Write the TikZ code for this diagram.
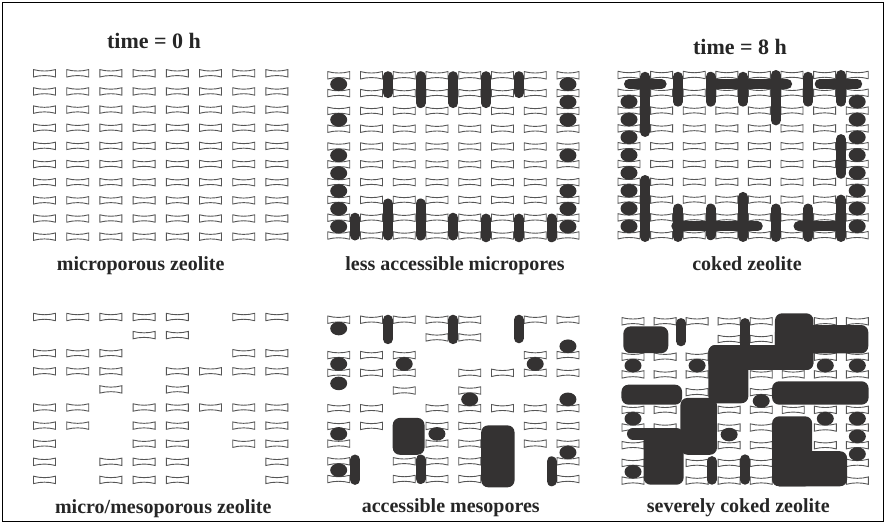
\documentclass[tikz,border=0pt]{standalone}
\usepackage{fontspec}
\setmainfont{Liberation Serif}
\definecolor{cokegray}{RGB}{52,50,50}
\definecolor{poregray}{RGB}{85,85,85}
\definecolor{ink}{RGB}{38,38,38}

\tikzset{
	pore/.pic={
		\draw[draw=poregray, fill=white, line width=0.9pt]
			(-11pt,3.7pt) -- (-11pt,-3.7pt)
			.. controls (-4pt,-1.8pt) and (4pt,-1.8pt) .. (11pt,-3.7pt)
			-- (11pt,3.7pt)
			.. controls (4pt,1.8pt) and (-4pt,1.8pt) .. cycle;
	},
	coke/.style={fill=cokegray},
	cokebar/.style={draw=cokegray, line width=10pt, line cap=round},
	block/.style={fill=cokegray, rounded corners=7pt},
	timestamp/.style={anchor=base, text=ink, font=\bfseries\fontsize{22}{26}\selectfont},
	panelname/.style={anchor=base, text=ink, font=\bfseries\fontsize{20}{24}\selectfont},
}

% 8 x 10 pores, all present
\newcommand\fullgrid{%
	\foreach \c in {0,...,7} {
		\foreach \r in {0,...,9} {
			\pic at (\c,\r) {pore};
		}
	}
}
% same lattice with the mesopores cut out
\newcommand\mesogrid{%
	\foreach \r/\cols in {0/{0,1,2,3,4,6,7}, 1/{3,4}, 2/{0,1,2,6,7}, 3/{0,1,2,4,5,6,7},
		4/{2,4}, 5/{0,1,3,4,5,6,7}, 6/{0,1,3,4,6,7}, 7/{0,3,4,6,7}, 8/{0,2,3,4,7}, 9/{0,2,3,4,7}} {
		\foreach \c in \cols {
			\pic at (\c,\r) {pore};
		}
	}
}
\newcommand\blob[1]{\fill[coke] (#1) ellipse [x radius=8.5pt, y radius=6.8pt];}

\begin{document}
\begin{tikzpicture}[x=1pt, y=-1pt]
	\useasboundingbox (0,0) rectangle (886,524);
	\draw[line width=1.2pt] (2.5,2.5) rectangle (883.5,521.5);

	% titres
	\node[timestamp] (t0) at (154,48.3) {time = 0 h};
	\node[timestamp] (t8) at (740,55) {time = 8 h};

	% microporeux
	\begin{scope}[shift={(44.5,73.3)}, x=33.2pt, y=-18.15pt]
		\fullgrid
	\end{scope}
	\node[panelname] (micro) at (140.7,270) {microporous zeolite};

	% micropores moins accessibles
	\begin{scope}[shift={(338.7,75.3)}, x=32.75pt, y=-17.8pt]
		\fullgrid
		\foreach \r in {0.5,2.5,4.5,5.5,6.5,7.5,8.5} {\blob{0,\r}}
		\foreach \r in {0.5,1.5,2.5,4.5,6.5,7.5,8.5} {\blob{7,\r}}
		\foreach \c/\e in {1.5/1.0, 2.5/1.56, 3.5/1.56, 4.5/1.56, 5.5/1.0} {
			\draw[cokebar] (\c,0.05) -- (\c,\e);
		}
		\foreach \c/\s/\e in {0.5/8/9, 1.5/7.2/9, 2.5/7.2/9, 3.5/8/9, 4.5/8.05/9.1, 5.5/8.05/9.1, 6.5/8.05/9.1} {
			\draw[cokebar] (\c,\s) -- (\c,\e);
		}
	\end{scope}
	\node[panelname] (less) at (455,270) {less accessible micropores};

	% zeolithe cokee
	\begin{scope}[shift={(629,75)}, x=32.6pt, y=-17.8pt]
		\fullgrid
		\foreach \r in {1.5,2.5,...,8.5} {\blob{0,\r} \blob{7,\r}}
		\foreach \c/\s/\e in {0.5/0.1/3.2, 1.5/0.1/1.5, 2.5/0.1/1.5, 3.5/0.1/1.5, 4.5/0/2.55,
			5.5/0.1/1.5, 6.5/0/1.5, 6.5/3.6/5.55, 0.5/5.9/9.1, 1.5/7.5/9.1, 2.5/7.5/9,
			3.5/6.85/9.1, 4.5/7.5/9.1, 5.5/7.5/9.1, 6.5/7/9.1} {
			\draw[cokebar] (\c,\s) -- (\c,\e);
		}
		\foreach \r/\s/\e in {0.5/0/1, 0.5/2.55/4.85, 0.5/5.85/7, 8.5/1.45/3.95, 8.5/5.2/6.45} {
			\draw[cokebar] (\s,\r) -- (\e,\r);
		}
	\end{scope}
	\node[panelname] (coked) at (747,270) {coked zeolite};

	% micro/mesoporeux
	\begin{scope}[shift={(44.5,317)}, x=33.2pt, y=-18.1pt]
		\mesogrid
	\end{scope}
	\node[panelname] (meso) at (163.3,513.3) {micro/mesoporous zeolite};

	% mesopores accessibles
	\begin{scope}[shift={(338.7,319.7)}, x=32.75pt, y=-17.7pt]
		\mesogrid
		\foreach \p in {{0,0.5},{0,2.5},{0,3.6},{2,2.5},{0,6.45},{0,8.5},{3,6.45},{4,4.5},
			{6,2.5},{7,1.5},{7,4.5},{7,7.5}} {\blob{\p}}
		\foreach \c/\s/\e in {1.5/0/1.1, 3.5/0/1.1, 5.5/0/1.05, 0.5/7.9/9.05, 2.5/7.9/9, 6.5/8/9.13} {
			\draw[cokebar] (\c,\s) -- (\c,\e);
		}
		\fill[block] (1.65,5.55) rectangle (2.62,7.63);
		\fill[block] (4.35,5.97) rectangle (5.37,9.47);
	\end{scope}
	\node[panelname] (access) at (450.8,512.7) {accessible mesopores};

	% fortement cokee
	\begin{scope}[shift={(633,321.3)}, x=32.05pt, y=-17.7pt]
		\mesogrid
		\foreach \p in {{0,2.5},{2,2.5},{6,2.5},{7,2.5},{4,4.5},{0,5.5},{6,5.5},{7,5.5},
			{3,6.4},{7,6.5},{7,7.5},{0,8.5}} {\blob{\p}}
		\foreach \c/\s/\e in {1.5/0.1/1.13, 3.5/0.1/1.6, 2.46/7.9/8.95, 3.5/7.8/8.95} {
			\draw[cokebar] (\c,\s) -- (\c,\e);
		}
		\draw[cokebar, line width=12pt] (0,6.35) -- (0.6,6.35);
		% blocs
		\fill[block] (-0.3,0.29) rectangle (1.1,1.8);
		\fill[block] (4.43,-0.45) rectangle (5.63,2.75);
		\fill[block] (4.43,0.21) rectangle (7.34,1.81);
		\fill[block] (2.35,1.34) rectangle (5.63,2.75);
		\fill[block] (2.35,1.34) rectangle (3.6,4.63);
		\fill[block] (-0.36,3.58) rectangle (1.53,4.71);
		\fill[block] (1.48,4.33) rectangle (2.62,7.54);
		\fill[block] (0.33,6.03) rectangle (1.58,9.23);
		\fill[block] (4.34,3.39) rectangle (7.35,4.71);
		\fill[block] (4.34,5.37) rectangle (5.59,9.32);
		\fill[block] (4.34,7.34) rectangle (6.68,9.32);
	\end{scope}
	\node[panelname] (severe) at (738.3,512.7) {severely coked zeolite};
\end{tikzpicture}
\end{document}
